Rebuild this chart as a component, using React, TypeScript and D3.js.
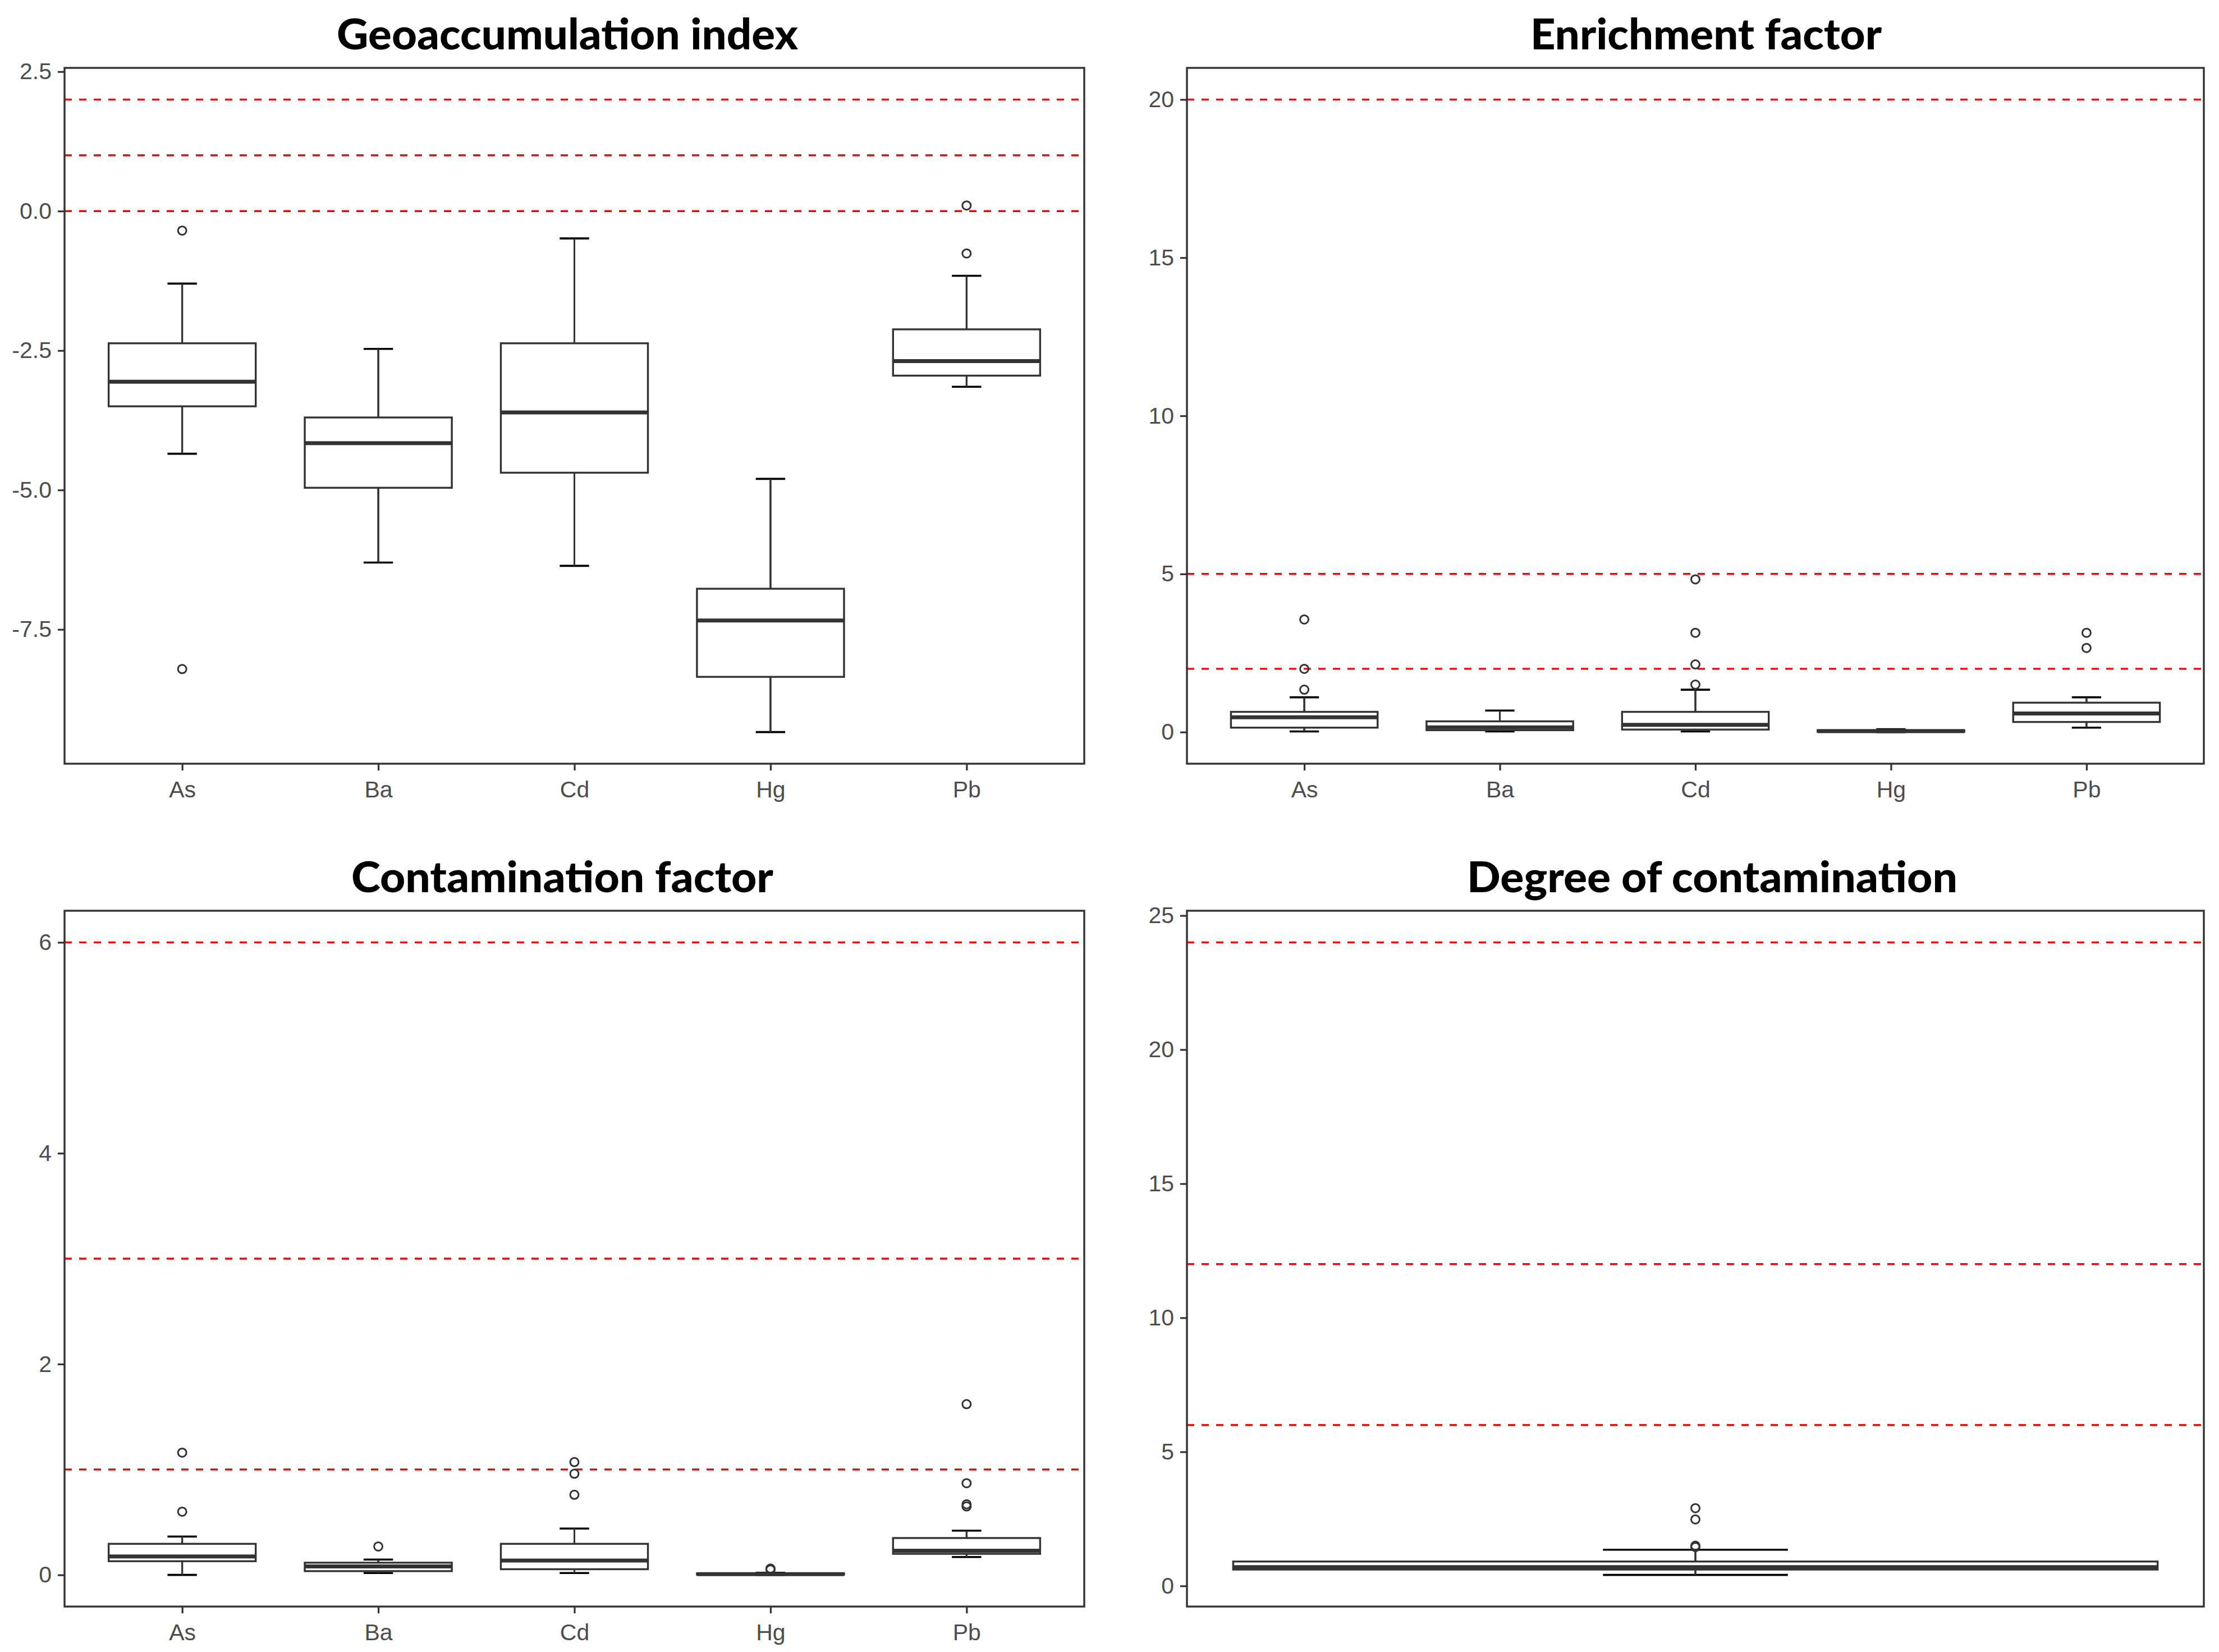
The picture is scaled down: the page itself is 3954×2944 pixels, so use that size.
import React, { useEffect, useRef } from "react";
import * as d3 from "d3";

const elements = ["As", "Ba", "Cd", "Hg", "Pb"];

// box stats per element: [lower whisker, Q1, median, Q3, upper whisker]
const igeoStats = [
  [-4.35, -3.5, -3.06, -2.37, -1.3],
  [-6.3, -4.96, -4.16, -3.7, -2.47],
  [-6.36, -4.69, -3.61, -2.37, -0.49],
  [-9.34, -8.35, -7.34, -6.77, -4.8],
  [-3.15, -2.95, -2.69, -2.12, -1.16],
];
const igeoOutliers = [[-0.35, -8.21], [], [], [], [0.1, -0.76]];
const igeoRefLines = [0, 1, 2];
const igeoTicks = [-7.5, -5, -2.5, 0, 2.5];

const efStats = [
  [0.02, 0.14, 0.47, 0.64, 1.1],
  [0.02, 0.06, 0.15, 0.34, 0.68],
  [0.02, 0.08, 0.23, 0.64, 1.34],
  [0.0, 0.01, 0.03, 0.06, 0.09],
  [0.14, 0.32, 0.59, 0.93, 1.1],
];
const efOutliers = [[1.34, 2.0, 3.56], [], [1.5, 2.14, 3.14, 4.83], [], [2.66, 3.14]];
const efRefLines = [2, 5, 20];
const efTicks = [0, 5, 10, 15, 20];

const cfStats = [
  [0.0, 0.13, 0.175, 0.295, 0.364],
  [0.018, 0.036, 0.08, 0.116, 0.146],
  [0.018, 0.054, 0.137, 0.295, 0.44],
  [0.0, 0.003, 0.008, 0.015, 0.02],
  [0.17, 0.2, 0.23, 0.35, 0.42],
];
const cfOutliers = [[0.6, 1.16], [0.27], [0.76, 0.96, 1.07], [0.05, 0.06], [0.65, 0.67, 0.87, 1.62]];
const cfRefLines = [1, 3, 6];
const cfTicks = [0, 2, 4, 6];

const dcStats = [[0.41, 0.61, 0.7, 0.91, 1.35]];
const dcOutliers = [[1.45, 1.5, 2.48, 2.9]];
const dcRefLines = [6, 12, 24];
const dcTicks = [0, 5, 10, 15, 20, 25];

interface PanelDef {
  title: string;
  titleX: number;
  titleW: number;
  stats: number[][];
  outliers: number[][];
  refLines: number[];
  ticks: number[];
  labels: string[] | null;
  decimals: number;
  left: number;
  right: number;
  top: number;
  bottom: number;
}

const panels: PanelDef[] = [
  { title: "Geoaccumulation index", titleX: 1011, titleW: 822, stats: igeoStats, outliers: igeoOutliers, refLines: igeoRefLines, ticks: igeoTicks, labels: elements, decimals: 1, left: 115, right: 1932, top: 121, bottom: 1361 },
  { title: "Enrichment factor", titleX: 3040, titleW: 626, stats: efStats, outliers: efOutliers, refLines: efRefLines, ticks: efTicks, labels: elements, decimals: 0, left: 2115, right: 3927, top: 121, bottom: 1361 },
  { title: "Contamination factor", titleX: 1002, titleW: 752, stats: cfStats, outliers: cfOutliers, refLines: cfRefLines, ticks: cfTicks, labels: elements, decimals: 0, left: 115, right: 1932, top: 1623, bottom: 2863 },
  { title: "Degree of contamination", titleX: 3051, titleW: 874, stats: dcStats, outliers: dcOutliers, refLines: dcRefLines, ticks: dcTicks, labels: null, decimals: 0, left: 2115, right: 3927, top: 1623, bottom: 2863 },
];

const W = 3954;
const H = 2944;

const App: React.FC = () => {
  const ref = useRef<SVGSVGElement>(null);

  useEffect(() => {
    if (!ref.current) return;
    const svg = d3.select(ref.current);
    svg.selectAll("*").remove();

    panels.forEach((p) => {
      const g = svg.append("g");

      // y domain like ggplot: data + reference lines, expanded 5%
      const all = [...p.stats.flat(), ...p.outliers.flat(), ...p.refLines];
      const [lo, hi] = d3.extent(all) as [number, number];
      const pad = (hi - lo) * 0.05;
      const y = d3.scaleLinear().domain([lo - pad, hi + pad]).range([p.bottom, p.top]);

      // x: discrete categories, or a single continuous box
      let cx: (i: number) => number;
      let unit: number;
      if (p.labels) {
        const x = d3.scalePoint<string>().domain(p.labels).range([p.left, p.right]).padding(0.6);
        cx = (i) => x(p.labels![i]) as number;
        unit = x.step();
      } else {
        const x = d3.scaleLinear().domain([-0.4125, 0.4125]).range([p.left, p.right]);
        cx = () => x(0);
        unit = x(1) - x(0);
      }

      // reference lines
      g.selectAll(".ref")
        .data(p.refLines)
        .enter()
        .append("line")
        .attr("x1", p.left)
        .attr("x2", p.right)
        .attr("y1", (d) => y(d))
        .attr("y2", (d) => y(d))
        .attr("stroke", "#ff0000")
        .attr("stroke-width", 3.4)
        .attr("stroke-dasharray", "13 13");

      p.stats.forEach((s, i) => {
        const [wLo, q1, med, q3, wHi] = s;
        const c = cx(i);
        const bw = unit * 0.75;
        const ew = unit * 0.15;

        // errorbar (stat_boxplot) in black
        g.append("line")
          .attr("x1", c).attr("x2", c)
          .attr("y1", y(wLo)).attr("y2", y(wHi))
          .attr("stroke", "#000").attr("stroke-width", 3);
        [wLo, wHi].forEach((v) => {
          g.append("line")
            .attr("x1", c - ew / 2).attr("x2", c + ew / 2)
            .attr("y1", y(v)).attr("y2", y(v))
            .attr("stroke", "#000").attr("stroke-width", 3.6);
        });

        // box
        g.append("rect")
          .attr("x", c - bw / 2)
          .attr("y", y(q3))
          .attr("width", bw)
          .attr("height", Math.max(0, y(q1) - y(q3)))
          .attr("fill", "#fff")
          .attr("stroke", "#333")
          .attr("stroke-width", 3.4);
        g.append("line")
          .attr("x1", c - bw / 2).attr("x2", c + bw / 2)
          .attr("y1", y(med)).attr("y2", y(med))
          .attr("stroke", "#333").attr("stroke-width", 7);

        // whiskers of the boxplot
        g.append("line")
          .attr("x1", c).attr("x2", c)
          .attr("y1", y(q3)).attr("y2", y(wHi))
          .attr("stroke", "#333").attr("stroke-width", 3);
        g.append("line")
          .attr("x1", c).attr("x2", c)
          .attr("y1", y(q1)).attr("y2", y(wLo))
          .attr("stroke", "#333").attr("stroke-width", 3);

        // outliers
        g.selectAll(`.out-${i}`)
          .data(p.outliers[i])
          .enter()
          .append("circle")
          .attr("cx", c)
          .attr("cy", (d) => y(d))
          .attr("r", 7.5)
          .attr("fill", "none")
          .attr("stroke", "#333")
          .attr("stroke-width", 3);
      });

      // y axis
      const ya = g
        .append("g")
        .attr("transform", `translate(${p.left},0)`)
        .call(
          d3
            .axisLeft(y)
            .tickValues(p.ticks)
            .tickSize(12)
            .tickPadding(11)
            .tickFormat((d) => (+d).toFixed(p.decimals))
        );
      ya.select(".domain").remove();
      ya.selectAll("line").attr("stroke", "#333").attr("stroke-width", 3.2);
      ya.selectAll("text")
        .attr("fill", "#4d4d4d")
        .style("font-family", "'Liberation Sans', Arial, sans-serif")
        .style("font-size", "41px");

      // x axis
      if (p.labels) {
        const x = d3.scalePoint<string>().domain(p.labels).range([p.left, p.right]).padding(0.6);
        const xa = g
          .append("g")
          .attr("transform", `translate(0,${p.bottom})`)
          .call(d3.axisBottom(x).tickSize(12).tickPadding(19));
        xa.select(".domain").remove();
        xa.selectAll("line").attr("stroke", "#333").attr("stroke-width", 3.2);
        xa.selectAll("text")
          .attr("fill", "#4d4d4d")
          .style("font-family", "'Liberation Sans', Arial, sans-serif")
          .style("font-size", "41px");
      }

      // panel border
      g.append("rect")
        .attr("x", p.left)
        .attr("y", p.top)
        .attr("width", p.right - p.left)
        .attr("height", p.bottom - p.top)
        .attr("fill", "none")
        .attr("stroke", "#333")
        .attr("stroke-width", 3.4);

      // title
      g.append("text")
        .attr("x", p.titleX)
        .attr("y", p.top - 33)
        .attr("text-anchor", "middle")
        .attr("textLength", p.titleW)
        .attr("lengthAdjust", "spacingAndGlyphs")
        .style("font-family", "Lato, 'Open Sans', sans-serif")
        .style("font-weight", "900")
        .style("font-size", "76px")
        .attr("fill", "#000")
        .text(p.title);
    });
  }, []);

  return (
    <svg
      ref={ref}
      width={W}
      height={H}
      style={{ position: "absolute", left: 0, top: 0, background: "#fff" }}
    />
  );
};

export default App;
